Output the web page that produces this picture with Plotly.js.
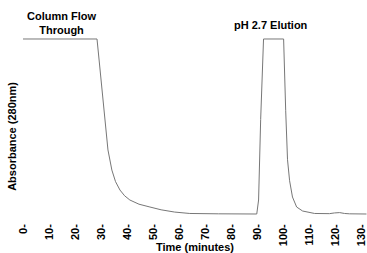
<!DOCTYPE html>
<html>
<head>
<meta charset="utf-8">
<script src="https://cdn.plot.ly/plotly-3.0.1.min.js"></script>
<style>html,body{margin:0;padding:0;background:#fff;}#chart{width:367px;height:253px;}</style>
</head>
<body>
<div id="chart"></div>
<script>
// Time (minutes) and absorbance (relative, detector saturates at 1)
const timeMin = [0, 28.4, 29.2, 29.9, 30.8, 31.8, 32.6, 34.1, 35.5, 37.2, 39.0, 41.0, 44.5, 48.7, 53.0, 58.2, 64.0, 75.0, 88.9,
                 89.7, 90.4, 91.2, 92.3, 100.0, 100.8, 101.5, 102.3, 103.4, 105.0, 107.3,
                 111.9, 117.6, 119.5, 121.5, 123.4, 125.3, 131.8];
const absorbance = [1.0, 1.0, 0.88, 0.77, 0.62, 0.48, 0.366, 0.251, 0.185, 0.137, 0.104, 0.08, 0.056, 0.04, 0.024, 0.011, 0.003, 0.001, 0.0,
                    0.0, 0.08, 0.54, 1.0, 1.0, 0.59, 0.31, 0.19, 0.097, 0.04, 0.017,
                    0.003, 0.002, 0.006, 0.008, 0.003, 0.001, 0.0];
const tickVals = [0, 10, 20, 30, 40, 50, 60, 70, 80, 90, 100, 110, 120, 130];
const tickText = tickVals.map(v => v + "-");
const peakLabels = ["Column Flow<br>Through", "pH 2.7 Elution"];
const peakLabelTimes = [14.6, 95];
const yTitle = "Absorbance (280nm)";

const boldFont = {family: "Liberation Sans, Arial, sans-serif", size: 11, color: "#000", weight: "bold"};

const trace = {
  x: timeMin, y: absorbance, type: "scatter", mode: "lines",
  line: {color: "#777777", width: 1}, hoverinfo: "skip"
};

const layout = {
  width: 367, height: 253,
  margin: {l: 23, r: 0, t: 30, b: 34},
  paper_bgcolor: "#fff", plot_bgcolor: "#fff",
  showlegend: false,
  xaxis: {
    range: [0, 132], showgrid: false, zeroline: false, showline: false,
    tickmode: "array", tickvals: tickVals, ticktext: tickText,
    tickangle: -90, ticks: "", ticklen: 0, ticklabeloverflow: "allow",
    ticklabelstandoff: 2,
    tickfont: {family: "Liberation Sans, Arial, sans-serif", size: 11, color: "#000", weight: "bold"},
    title: {text: "Time (minutes)", font: boldFont, standoff: 3},
    automargin: false
  },
  yaxis: {
    range: [-0.0286, 1.0514], showgrid: false, zeroline: false, showline: false,
    showticklabels: false, ticks: "",
    automargin: false
  },
  annotations: [
    {x: peakLabelTimes[0], y: 1.035, xref: "x", yref: "paper", text: peakLabels[0],
     showarrow: false, font: boldFont, xanchor: "center", yanchor: "middle"},
    {x: peakLabelTimes[1], y: 1.025, xref: "x", yref: "paper", text: peakLabels[1],
     showarrow: false, font: boldFont, xanchor: "center", yanchor: "middle"},
    {x: -0.032, y: 0.44, xref: "paper", yref: "paper", text: yTitle, textangle: -90,
     showarrow: false, font: boldFont, xanchor: "center", yanchor: "middle"}
  ]
};

Plotly.newPlot("chart", [trace], layout, {displayModeBar: false, staticPlot: true});
</script>
</body>
</html>
